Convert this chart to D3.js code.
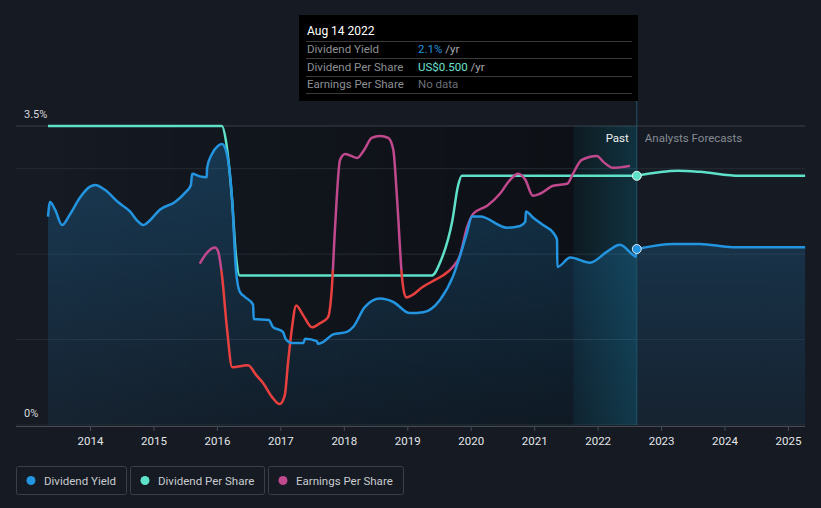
<!DOCTYPE html>
<html><head><meta charset="utf-8">
<script src="https://cdn.jsdelivr.net/npm/d3@7"></script>
<style>
html,body{margin:0;padding:0;background:#151a23;}
svg{display:block;font-family:Roboto,"Noto Sans",sans-serif;}
</style></head>
<body><svg id="c" width="821" height="508"></svg>
<script>
// ---- data ----
const years = [2014,2015,2016,2017,2018,2019,2020,2021,2022,2023,2024,2025];
const yTickLabels = [{v:3.5,t:"3.5%"},{v:0,t:"0%"}];
const gridValues = [0,1,2,3,3.5];
const nowDate = 2022.617; // Aug 14 2022
const bandStart = 2021.62;

const yieldT = [2013.338,2013.37,2013.45,2013.56,2013.68,2013.84,2014.0,2014.08,2014.24,2014.44,2014.63,2014.76,2014.84,2014.95,2015.10,2015.34,2015.50,2015.59,2015.61,2015.73,2015.84,2015.845,2015.92,2016.02,2016.08,2016.14,2016.24,2016.30,2016.36,2016.44,2016.57,2016.58,2016.82,2016.88,2017.04,2017.09,2017.18,2017.36,2017.39,2017.58,2017.59,2017.67,2017.83,2018.05,2018.15,2018.33,2018.57,2018.78,2019.04,2019.25,2019.52,2019.72,2019.86,2019.94,2020.02,2020.15,2020.57,2020.78,2020.86,2020.87,2020.98,2021.14,2021.30,2021.36,2021.365,2021.57,2021.88,2022.15,2022.35,2022.56,2022.60,2022.617];
const yieldV = [2.44,2.61,2.52,2.34,2.46,2.66,2.79,2.81,2.75,2.61,2.50,2.38,2.34,2.40,2.52,2.61,2.72,2.81,2.94,2.91,2.90,3.01,3.17,3.27,3.29,3.22,2.64,1.82,1.56,1.50,1.41,1.24,1.23,1.15,1.09,1.00,0.96,0.96,1.01,0.98,0.95,0.97,1.06,1.09,1.15,1.38,1.48,1.44,1.31,1.32,1.47,1.74,2.05,2.25,2.44,2.44,2.31,2.33,2.38,2.50,2.43,2.34,2.25,2.17,1.85,1.96,1.90,2.03,2.11,1.99,1.97,2.06];
const yieldFcT = [2022.617,2023.19,2023.61,2024.13,2025.27];
const yieldFcV = [2.06,2.12,2.12,2.08,2.08];

const dpsT = [2013.338,2016.08,2016.14,2016.24,2016.30,2016.36,2019.39,2019.52,2019.71,2019.80,2019.86,2022.617];
const dpsV = [0.60,0.60,0.572,0.45,0.34,0.30,0.30,0.327,0.41,0.48,0.50,0.50];
const dpsFcT = [2022.617,2023.27,2023.61,2024.24,2025.27];
const dpsFcV = [0.50,0.51,0.508,0.50,0.50];

const epsT = [2015.73,2015.86,2015.97,2016.02,2016.08,2016.16,2016.24,2016.49,2016.62,2016.73,2016.87,2016.99,2017.07,2017.12,2017.18,2017.25,2017.36,2017.50,2017.62,2017.75,2017.81,2017.86,2017.94,2018.02,2018.21,2018.32,2018.44,2018.57,2018.70,2018.78,2018.84,2018.92,2018.98,2019.07,2019.23,2019.39,2019.56,2019.71,2019.83,2019.94,2020.04,2020.26,2020.46,2020.62,2020.75,2020.86,2020.98,2021.09,2021.30,2021.52,2021.61,2021.75,2021.99,2022.09,2022.24,2022.51];
const epsV = [0.81,0.87,0.89,0.87,0.75,0.48,0.29,0.30,0.25,0.21,0.14,0.105,0.15,0.31,0.48,0.60,0.55,0.49,0.51,0.54,0.68,0.98,1.33,1.36,1.34,1.38,1.44,1.45,1.44,1.38,1.13,0.73,0.64,0.65,0.69,0.72,0.75,0.79,0.85,0.99,1.06,1.10,1.16,1.23,1.26,1.23,1.15,1.16,1.20,1.21,1.26,1.33,1.35,1.32,1.29,1.30];
const epsThreshold = 0.78;

const legendItems = [
  {name:"Dividend Yield", color:"#2394df"},
  {name:"Dividend Per Share", color:"#5fe0c8"},
  {name:"Earnings Per Share", color:"#c0488c"}
];
const tooltipDate = "Aug 14 2022";
const tooltipRows = [
  {label:"Dividend Yield", value:"2.1%", unit:" /yr", color:"#2394df"},
  {label:"Dividend Per Share", value:"US$0.500", unit:" /yr", color:"#6de2cf"},
  {label:"Earnings Per Share", value:"No data", unit:"", color:"#6b6f76"}
];

// ---- scales ----
const X0 = 16, X1 = 805, Y0 = 425, Y1 = 126;
const x = d3.scaleLinear().domain([2014,2025]).range([90,788]);
const yY = d3.scaleLinear().domain([0,3.5]).range([Y0,Y1]);
const yD = d3.scaleLinear().domain([0,0.6]).range([Y0,Y1]);
const yE = d3.scaleLinear().domain([0,1.5]).range([Y0,Y1]);

const zip = (t,v) => t.map((d,i)=>({t:d,v:v[i]}));
const yieldPast = zip(yieldT,yieldV), yieldFc = zip(yieldFcT,yieldFcV);
const dpsPast = zip(dpsT,dpsV), dpsFc = zip(dpsFcT,dpsFcV);
const eps = zip(epsT,epsV);

const svg = d3.select("#c");
const defs = svg.append("defs");

const gPast = defs.append("linearGradient").attr("id","pastDark").attr("x1",0).attr("x2",1).attr("y1",0).attr("y2",0);
gPast.append("stop").attr("offset","0%").attr("stop-color","#000").attr("stop-opacity",0);
gPast.append("stop").attr("offset","35%").attr("stop-color","#000").attr("stop-opacity",0.2);
gPast.append("stop").attr("offset","100%").attr("stop-color","#000").attr("stop-opacity",0.42);

const gBand = defs.append("linearGradient").attr("id","band").attr("x1",0).attr("x2",1).attr("y1",0).attr("y2",0);
gBand.append("stop").attr("offset","0%").attr("stop-color","#1a8fb0").attr("stop-opacity",0.08);
gBand.append("stop").attr("offset","100%").attr("stop-color","#1a8fb0").attr("stop-opacity",0.28);

const gArea = defs.append("linearGradient").attr("id","area").attr("gradientUnits","userSpaceOnUse")
  .attr("x1",0).attr("x2",0).attr("y1",Y1).attr("y2",Y0);
gArea.append("stop").attr("offset","0%").attr("stop-color","#2394df").attr("stop-opacity",0.28);
gArea.append("stop").attr("offset","100%").attr("stop-color","#2394df").attr("stop-opacity",0.07);

const gEps = defs.append("linearGradient").attr("id","epsG").attr("gradientUnits","userSpaceOnUse")
  .attr("x1",0).attr("x2",0).attr("y1",Y1).attr("y2",Y0);
const thrOff = (yE(epsThreshold)-Y1)/(Y0-Y1);
gEps.append("stop").attr("offset",thrOff).attr("stop-color","#c0488c");
gEps.append("stop").attr("offset",thrOff).attr("stop-color","#e8403e");

// past darkening
svg.append("rect").attr("x",x(yieldT[0])).attr("y",Y1).attr("width",x(nowDate)-x(yieldT[0])).attr("height",Y0-Y1)
  .attr("fill","url(#pastDark)");

// gridlines
svg.append("g").selectAll("line").data(gridValues).join("line")
  .attr("x1",X0).attr("x2",X1).attr("y1",d=>yY(d)).attr("y2",d=>yY(d))
  .attr("stroke",d=>d===3.5?"#3b4049":"#262b33").attr("stroke-width",1);

// highlight band
svg.append("rect").attr("x",x(bandStart)).attr("y",Y1).attr("width",x(nowDate)-x(bandStart)).attr("height",Y0-Y1)
  .attr("fill","url(#band)");

// areas
const area = d3.area().x(d=>x(d.t)).y0(Y0).y1(d=>yY(d.v)).curve(d3.curveMonotoneX);
svg.append("path").datum(yieldPast).attr("d",area).attr("fill","url(#area)");
svg.append("path").datum(yieldFc).attr("d",area).attr("fill","url(#area)");

// now line
svg.append("line").attr("x1",x(nowDate)).attr("x2",x(nowDate)).attr("y1",101).attr("y2",Y0)
  .attr("stroke","#1f5566").attr("stroke-width",1);

// lines
const lineY = d3.line().x(d=>x(d.t)).y(d=>yY(d.v)).curve(d3.curveMonotoneX);
const lineD = d3.line().x(d=>x(d.t)).y(d=>yD(d.v)).curve(d3.curveMonotoneX);
const lineE = d3.line().x(d=>x(d.t)).y(d=>yE(d.v)).curve(d3.curveMonotoneX);

svg.append("path").datum(dpsPast).attr("d",lineD).attr("fill","none").attr("stroke","#5fe0c8").attr("stroke-width",2.5);
svg.append("path").datum(dpsFc).attr("d",lineD).attr("fill","none").attr("stroke","#5fe0c8").attr("stroke-width",2.5);
svg.append("path").datum(eps).attr("d",lineE).attr("fill","none").attr("stroke","url(#epsG)").attr("stroke-width",2.5);
svg.append("path").datum(yieldPast).attr("d",lineY).attr("fill","none").attr("stroke","#2394df").attr("stroke-width",2.5);
svg.append("path").datum(yieldFc).attr("d",lineY).attr("fill","none").attr("stroke","#2394df").attr("stroke-width",2.5);

// dots
svg.append("circle").attr("cx",x(dpsFc[0].t)).attr("cy",yD(dpsFc[0].v)).attr("r",4.5).attr("fill","#5fe0c8").attr("stroke","#e8f6f4").attr("stroke-width",1);
svg.append("circle").attr("cx",x(yieldFc[0].t)).attr("cy",yY(yieldFc[0].v)).attr("r",4.5).attr("fill","#2394df").attr("stroke","#e0eef8").attr("stroke-width",1);

// y labels
svg.append("g").selectAll("text").data(yTickLabels).join("text")
  .attr("x",24).attr("y",d=>yY(d.v)-8).attr("fill","#d5d7da").attr("font-size",11).text(d=>d.t);

// x axis
const ax = svg.append("g").attr("transform",`translate(0,${Y0+1})`)
  .call(d3.axisBottom(x).tickValues(years).tickFormat(d3.format("d")).tickSize(5).tickPadding(6));
ax.select(".domain").attr("d",`M${X0},0.5H${X1}`).attr("stroke","#454a53");
ax.selectAll(".tick line").attr("stroke","#454a53");
ax.selectAll(".tick text").attr("fill","#e4e6e8").attr("font-size",11.5).attr("font-family","Roboto,sans-serif");

// Past / forecasts
svg.append("text").attr("x",x(nowDate)-8).attr("y",142).attr("text-anchor","end").attr("fill","#eeeeee").attr("font-size",11.5).text("Past");
svg.append("text").attr("x",x(nowDate)+8).attr("y",142).attr("fill","#868b93").attr("font-size",11.5).text("Analysts Forecasts");

// tooltip
const tt = svg.append("g");
tt.append("rect").attr("x",299).attr("y",15).attr("width",339).attr("height",86).attr("fill","#000");
tt.append("text").attr("x",307).attr("y",35).attr("fill","#ffffff").attr("font-size",12).text(tooltipDate);
[41,58,76,93].forEach(yy=>tt.append("line").attr("x1",306).attr("x2",632).attr("y1",yy+0.5).attr("y2",yy+0.5).attr("stroke","#3a3a3a"));
tooltipRows.forEach((r,i)=>{
  const yy = 53 + i*17.7;
  tt.append("text").attr("x",307).attr("y",yy).attr("fill","#8c8f94").attr("font-size",11.5).text(r.label);
  const t = tt.append("text").attr("x",418).attr("y",yy).attr("font-size",11.5);
  t.append("tspan").attr("fill",r.color).text(r.value);
  t.append("tspan").attr("fill","#a8abb0").text(r.unit);
});

// legend
const lg = svg.append("g");
let lx = 16;
const widths = [110,134,135];
legendItems.forEach((it,i)=>{
  const g = lg.append("g").attr("transform",`translate(${lx},466)`);
  g.append("rect").attr("x",0.5).attr("y",0.5).attr("width",widths[i]).attr("height",28).attr("rx",2)
    .attr("fill","none").attr("stroke","#3a3f48");
  g.append("circle").attr("cx",15).attr("cy",14.5).attr("r",4.5).attr("fill",it.color);
  g.append("text").attr("x",28).attr("y",18.5).attr("fill","#c9cbce").attr("font-size",11.5).text(it.name);
  lx += widths[i]+4;
});
</script></body></html>
